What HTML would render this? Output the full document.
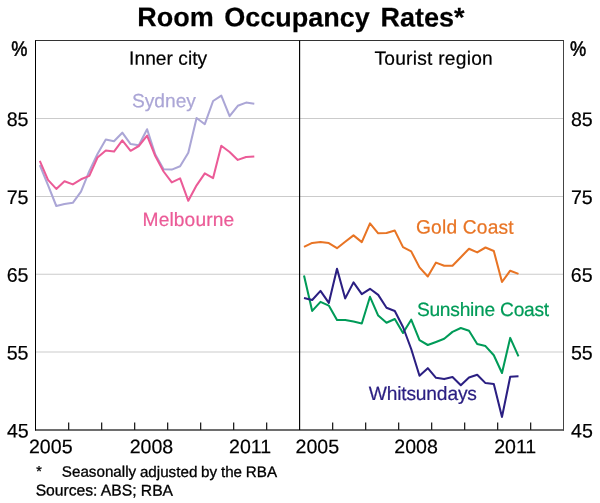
<!DOCTYPE html>
<html lang="en">
<head>
<meta charset="utf-8">
<title>Room Occupancy Rates</title>
<style>
html,body{margin:0;padding:0;background:#fff;}
body{width:600px;height:503px;overflow:hidden;}
svg{display:block;will-change:transform;text-rendering:geometricPrecision;font-family:"Liberation Sans",Arial,Helvetica,sans-serif;}
text{white-space:pre;}
</style>
</head>
<body>
<svg width="600" height="503" viewBox="0 0 600 503">
<rect x="0" y="0" width="600" height="503" fill="#ffffff"/>
<g stroke="#cbcbcb" stroke-width="1">
<line x1="36.0" y1="118.50" x2="563.5" y2="118.50"/>
<line x1="36.0" y1="196.50" x2="563.5" y2="196.50"/>
<line x1="36.0" y1="274.25" x2="563.5" y2="274.25"/>
<line x1="36.0" y1="352.00" x2="563.5" y2="352.00"/>
</g>
<polyline fill="none" stroke="#ABA6D6" stroke-width="2.05" stroke-linejoin="round" stroke-linecap="butt" points="39.8,165.2 48.0,185.2 56.3,206.0 64.5,203.9 72.8,202.8 81.0,191.6 89.3,171.2 97.5,154.0 105.8,139.6 114.0,141.2 122.3,132.7 130.6,144.1 138.8,145.2 147.1,129.2 155.3,154.5 163.6,169.2 171.8,169.6 180.1,166.3 188.3,152.8 196.6,118.0 204.8,124.2 213.1,101.0 221.3,95.6 229.6,116.2 237.8,105.8 246.1,102.6 254.3,103.7"/>
<polyline fill="none" stroke="#EB5B97" stroke-width="2.05" stroke-linejoin="round" stroke-linecap="butt" points="39.8,160.9 48.0,179.9 56.3,188.9 64.5,181.2 72.8,184.4 81.0,179.3 89.3,175.9 97.5,157.5 105.8,150.5 114.0,151.6 122.3,140.4 130.6,150.8 138.8,146.0 147.1,135.6 155.3,156.0 163.6,171.5 171.8,182.4 180.1,178.4 188.3,200.8 196.6,185.3 204.8,173.3 213.1,178.1 221.3,145.8 229.6,152.0 237.8,159.9 246.1,157.0 254.3,156.5"/>
<polyline fill="none" stroke="#E87424" stroke-width="2.05" stroke-linejoin="round" stroke-linecap="butt" points="304.0,246.9 312.2,242.9 320.5,242.1 328.8,243.1 337.0,248.2 345.2,241.8 353.5,235.4 361.8,242.1 370.0,223.4 378.2,233.3 386.5,233.0 394.8,230.6 403.0,247.1 411.2,251.4 419.5,267.4 427.8,276.5 436.0,262.6 444.2,265.8 452.5,265.7 460.8,257.2 469.0,248.8 477.2,252.4 485.5,247.5 493.8,251.0 502.0,282.0 510.2,270.7 518.5,273.9"/>
<polyline fill="none" stroke="#009B58" stroke-width="2.05" stroke-linejoin="round" stroke-linecap="butt" points="304.0,275.5 312.2,310.9 320.5,301.9 328.8,305.6 337.0,320.0 345.2,320.0 353.5,321.6 361.8,323.5 370.0,296.8 378.2,315.6 386.5,322.8 394.8,319.0 403.0,333.0 411.2,319.7 419.5,340.2 427.8,345.0 436.0,342.0 444.2,338.8 452.5,331.9 460.8,328.0 469.0,330.7 477.2,344.0 485.5,346.1 493.8,355.2 502.0,373.0 510.2,337.9 518.5,356.3"/>
<polyline fill="none" stroke="#2B1F82" stroke-width="2.05" stroke-linejoin="round" stroke-linecap="butt" points="304.0,298.1 312.2,300.0 320.5,290.9 328.8,302.9 337.0,268.8 345.2,298.4 353.5,282.4 361.8,294.1 370.0,288.8 378.2,294.9 386.5,307.7 394.8,311.0 403.0,327.0 411.2,349.0 419.5,375.7 427.8,368.2 436.0,377.8 444.2,379.1 452.5,377.0 460.8,385.2 469.0,377.5 477.2,374.7 485.5,383.1 493.8,384.0 502.0,416.9 510.2,376.8 518.5,376.3"/>
<g fill="none" stroke-width="1">
<line x1="35.0" y1="430.0" x2="564.0" y2="430.0" stroke="#6e6e6e" stroke-width="2"/>
<line x1="68.65" y1="422.6" x2="68.65" y2="430.0" stroke="#222" stroke-width="1.3"/>
<line x1="101.65" y1="422.6" x2="101.65" y2="430.0" stroke="#222" stroke-width="1.3"/>
<line x1="134.65" y1="422.6" x2="134.65" y2="430.0" stroke="#222" stroke-width="1.3"/>
<line x1="167.65" y1="422.6" x2="167.65" y2="430.0" stroke="#222" stroke-width="1.3"/>
<line x1="200.65" y1="422.6" x2="200.65" y2="430.0" stroke="#222" stroke-width="1.3"/>
<line x1="233.65" y1="422.6" x2="233.65" y2="430.0" stroke="#222" stroke-width="1.3"/>
<line x1="266.65" y1="422.6" x2="266.65" y2="430.0" stroke="#222" stroke-width="1.3"/>
<line x1="332.65" y1="422.6" x2="332.65" y2="430.0" stroke="#222" stroke-width="1.3"/>
<line x1="365.65" y1="422.6" x2="365.65" y2="430.0" stroke="#222" stroke-width="1.3"/>
<line x1="398.65" y1="422.6" x2="398.65" y2="430.0" stroke="#222" stroke-width="1.3"/>
<line x1="431.65" y1="422.6" x2="431.65" y2="430.0" stroke="#222" stroke-width="1.3"/>
<line x1="464.65" y1="422.6" x2="464.65" y2="430.0" stroke="#222" stroke-width="1.3"/>
<line x1="497.65" y1="422.6" x2="497.65" y2="430.0" stroke="#222" stroke-width="1.3"/>
<line x1="530.65" y1="422.6" x2="530.65" y2="430.0" stroke="#222" stroke-width="1.3"/>
<line x1="35.0" y1="40.5" x2="564.0" y2="40.5" stroke="#333"/>
<line x1="563.5" y1="40.5" x2="563.5" y2="430.5" stroke="#444"/>
<line x1="35.5" y1="40.5" x2="35.5" y2="430.5" stroke="#000"/>
<line x1="299.6" y1="40.5" x2="299.6" y2="430.0" stroke="#000" stroke-width="1.15"/>
</g>
<text id="title" transform="translate(137.15,26.26) rotate(0.05)" font-size="27.00" font-weight="bold" fill="#000" stroke="#000" stroke-width="0.20" letter-spacing="0.000" word-spacing="3.170">Room Occupancy Rates*</text>
<text id="inner" transform="translate(129.10,64.77) rotate(0.05)" font-size="19.20" font-weight="normal" fill="#000" stroke="#000" stroke-width="0.20" letter-spacing="0.024" word-spacing="0.000">Inner city</text>
<text id="tourist" transform="translate(374.46,64.65) rotate(0.05)" font-size="19.20" font-weight="normal" fill="#000" stroke="#000" stroke-width="0.20" letter-spacing="0.237" word-spacing="0.000">Tourist region</text>
<text id="sydney" transform="translate(131.91,107.27) rotate(0.05)" font-size="19.20" font-weight="normal" fill="#ABA6D6" stroke="#ABA6D6" stroke-width="0.22" letter-spacing="-0.003" word-spacing="0.000">Sydney</text>
<text id="melb" transform="translate(142.58,225.96) rotate(0.05)" font-size="19.20" font-weight="normal" fill="#EB5B97" stroke="#EB5B97" stroke-width="0.22" letter-spacing="0.111" word-spacing="0.000">Melbourne</text>
<text id="gold" transform="translate(416.00,233.56) rotate(0.05)" font-size="19.20" font-weight="normal" fill="#E87424" stroke="#E87424" stroke-width="0.22" letter-spacing="0.190" word-spacing="0.000">Gold Coast</text>
<text id="sunsh" transform="translate(416.89,315.94) rotate(0.05)" font-size="19.20" font-weight="normal" fill="#009B58" stroke="#009B58" stroke-width="0.22" letter-spacing="-0.244" word-spacing="0.000">Sunshine Coast</text>
<text id="whits" transform="translate(368.69,399.95) rotate(0.05)" font-size="19.20" font-weight="normal" fill="#2B1F82" stroke="#2B1F82" stroke-width="0.22" letter-spacing="-0.161" word-spacing="0.000">Whitsundays</text>
<text id="x05L" transform="translate(28.94,453.28) rotate(0.05)" font-size="19.60" font-weight="normal" fill="#000" stroke="#000" stroke-width="0.20" letter-spacing="0.000" word-spacing="0.000">2005</text>
<text id="x08L" transform="translate(129.68,453.28) rotate(0.05)" font-size="19.60" font-weight="normal" fill="#000" stroke="#000" stroke-width="0.20" letter-spacing="0.000" word-spacing="0.000">2008</text>
<text id="x11L" transform="translate(229.02,453.28) rotate(0.05)" font-size="19.60" font-weight="normal" fill="#000" stroke="#000" stroke-width="0.20" letter-spacing="0.000" word-spacing="0.000">2011</text>
<text id="x05R" transform="translate(295.54,453.28) rotate(0.05)" font-size="19.60" font-weight="normal" fill="#000" stroke="#000" stroke-width="0.20" letter-spacing="0.000" word-spacing="0.000">2005</text>
<text id="x08R" transform="translate(394.23,453.28) rotate(0.05)" font-size="19.60" font-weight="normal" fill="#000" stroke="#000" stroke-width="0.20" letter-spacing="0.000" word-spacing="0.000">2008</text>
<text id="x11R" transform="translate(494.13,453.28) rotate(0.05)" font-size="19.60" font-weight="normal" fill="#000" stroke="#000" stroke-width="0.20" letter-spacing="0.000" word-spacing="0.000">2011</text>
<text id="fnstar" transform="translate(36.31,476.00) rotate(0.05)" font-size="14.20" font-weight="normal" fill="#000" stroke="#000" stroke-width="0.30" letter-spacing="0.000" word-spacing="0.000">*</text>
<text id="fn1" transform="translate(61.84,476.81) rotate(0.05)" font-size="15.20" font-weight="normal" fill="#000" stroke="#000" stroke-width="0.30" letter-spacing="0.000" word-spacing="-0.449">Seasonally adjusted by the RBA</text>
<text id="fn2" transform="translate(35.66,495.54) rotate(0.05)" font-size="15.70" font-weight="normal" fill="#000" stroke="#000" stroke-width="0.30" letter-spacing="-0.021" word-spacing="0.000">Sources: ABS; RBA</text>
<text id="yL85" transform="translate(6.72,126.09) rotate(0.05)" font-size="19.60" font-weight="normal" fill="#000" stroke="#000" stroke-width="0.20" letter-spacing="0.000" word-spacing="0.000">85</text>
<text id="yR85" transform="translate(570.96,126.09) rotate(0.05)" font-size="19.60" font-weight="normal" fill="#000" stroke="#000" stroke-width="0.20" letter-spacing="0.000" word-spacing="0.000">85</text>
<text id="yL75" transform="translate(6.71,204.09) rotate(0.05)" font-size="19.60" font-weight="normal" fill="#000" stroke="#000" stroke-width="0.20" letter-spacing="0.000" word-spacing="0.000">75</text>
<text id="yR75" transform="translate(570.91,204.09) rotate(0.05)" font-size="19.60" font-weight="normal" fill="#000" stroke="#000" stroke-width="0.20" letter-spacing="0.000" word-spacing="0.000">75</text>
<text id="yL65" transform="translate(6.72,281.84) rotate(0.05)" font-size="19.60" font-weight="normal" fill="#000" stroke="#000" stroke-width="0.20" letter-spacing="0.000" word-spacing="0.000">65</text>
<text id="yR65" transform="translate(570.82,281.84) rotate(0.05)" font-size="19.60" font-weight="normal" fill="#000" stroke="#000" stroke-width="0.20" letter-spacing="0.000" word-spacing="0.000">65</text>
<text id="yL55" transform="translate(6.65,359.59) rotate(0.05)" font-size="19.60" font-weight="normal" fill="#000" stroke="#000" stroke-width="0.20" letter-spacing="0.000" word-spacing="0.000">55</text>
<text id="yR55" transform="translate(570.90,359.59) rotate(0.05)" font-size="19.60" font-weight="normal" fill="#000" stroke="#000" stroke-width="0.20" letter-spacing="0.000" word-spacing="0.000">55</text>
<text id="yL45" transform="translate(6.93,437.59) rotate(0.05)" font-size="19.60" font-weight="normal" fill="#000" stroke="#000" stroke-width="0.20" letter-spacing="0.000" word-spacing="0.000">45</text>
<text id="yR45" transform="translate(571.11,437.59) rotate(0.05)" font-size="19.60" font-weight="normal" fill="#000" stroke="#000" stroke-width="0.20" letter-spacing="0.000" word-spacing="0.000">45</text>
<text id="pctL" transform="translate(19.30,55.80) rotate(0.05) scale(0.93,1.06)" x="0" y="0" text-anchor="middle" font-size="19.60" fill="#000" stroke="#000" stroke-width="0.5">%</text>
<text id="pctR" transform="translate(578.15,55.80) rotate(0.05) scale(0.93,1.06)" x="0" y="0" text-anchor="middle" font-size="19.60" fill="#000" stroke="#000" stroke-width="0.5">%</text>
</svg>
</body>
</html>
